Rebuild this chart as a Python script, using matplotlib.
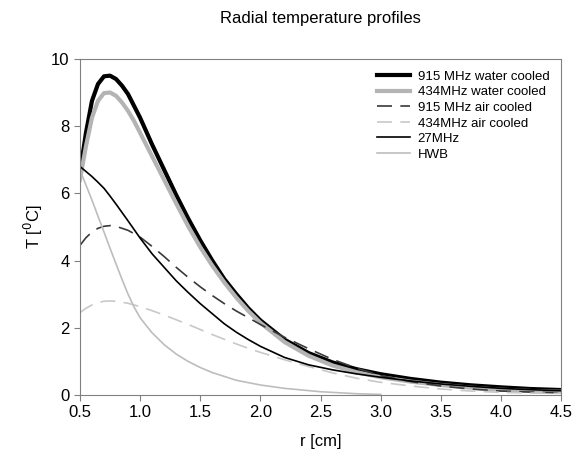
import numpy as np
from matplotlib import pyplot as plt

plt.rcParams['font.family'] = ['Liberation Sans', 'DejaVu Sans']

# radial positions [cm] and temperatures
r_water = [0.5, 0.55, 0.6, 0.65, 0.7, 0.75, 0.8, 0.85, 0.9, 0.95, 1.0, 1.1, 1.2,
           1.3, 1.4, 1.5, 1.6, 1.7, 1.8, 1.9, 2.0, 2.2, 2.4, 2.6, 2.8, 3.0,
           3.25, 3.5, 3.75, 4.0, 4.25, 4.5]
t_915_water = [6.6, 7.8, 8.75, 9.25, 9.48, 9.5, 9.4, 9.2, 8.95, 8.6, 8.25, 7.45,
               6.7, 5.95, 5.25, 4.6, 4.0, 3.45, 3.0, 2.58, 2.22, 1.65, 1.25,
               0.97, 0.77, 0.62, 0.48, 0.37, 0.29, 0.23, 0.18, 0.15]
t_434_water = [6.4, 7.4, 8.25, 8.75, 8.98, 9.0, 8.9, 8.7, 8.45, 8.15, 7.8, 7.1,
               6.4, 5.7, 5.02, 4.4, 3.85, 3.35, 2.9, 2.5, 2.15, 1.58, 1.17,
               0.88, 0.68, 0.53, 0.4, 0.3, 0.22, 0.16, 0.12, 0.1]

r_air = [0.5, 0.55, 0.6, 0.65, 0.7, 0.75, 0.8, 0.9, 1.0, 1.1, 1.2, 1.3, 1.4,
         1.5, 1.6, 1.7, 1.8, 1.9, 2.0, 2.2, 2.4, 2.6, 2.8, 3.0, 3.25, 3.5,
         3.75, 4.0, 4.25, 4.5]
t_915_air = [4.45, 4.68, 4.85, 4.96, 5.02, 5.04, 5.02, 4.9, 4.7, 4.42, 4.12,
             3.8, 3.5, 3.22, 2.96, 2.72, 2.5, 2.3, 2.1, 1.72, 1.38, 1.06, 0.8,
             0.58, 0.4, 0.27, 0.18, 0.12, 0.09, 0.07]
t_434_air = [2.45, 2.58, 2.68, 2.75, 2.79, 2.8, 2.79, 2.73, 2.63, 2.51, 2.38,
             2.24, 2.1, 1.95, 1.8, 1.66, 1.52, 1.39, 1.27, 1.05, 0.85, 0.66,
             0.5, 0.38, 0.27, 0.18, 0.12, 0.08, 0.06, 0.05]
t_27 = [6.8, 6.65, 6.5, 6.33, 6.15, 5.92, 5.68, 5.18, 4.67, 4.2, 3.8, 3.4,
        3.05, 2.72, 2.42, 2.12, 1.87, 1.65, 1.45, 1.12, 0.9, 0.75, 0.63, 0.53,
        0.42, 0.33, 0.26, 0.2, 0.16, 0.13]

r_hwb = [0.5, 0.55, 0.6, 0.65, 0.7, 0.75, 0.8, 0.85, 0.9, 0.95, 1.0, 1.1, 1.2,
         1.3, 1.4, 1.5, 1.6, 1.8, 2.0, 2.2, 2.5, 2.8, 3.0]
t_hwb = [6.7, 6.25, 5.8, 5.32, 4.85, 4.37, 3.9, 3.44, 3.0, 2.62, 2.3, 1.85, 1.5,
         1.22, 1.0, 0.82, 0.67, 0.44, 0.3, 0.2, 0.1, 0.04, 0.02]

fig = plt.figure(figsize=(5.75, 4.67), dpi=100)
ax = fig.add_axes([0.139, 0.154, 0.837, 0.72])

ax.plot(r_water, t_915_water, color='black', lw=3, label='915 MHz water cooled')
ax.plot(r_water, t_434_water, color='#b4b4b4', lw=3, label='434MHz water cooled')
ax.plot(r_air, t_915_air, color='#3a3a3a', lw=1.2, dashes=(9, 5), label='915 MHz air cooled')
ax.plot(r_air, t_434_air, color='#c8c8c8', lw=1.2, dashes=(9, 5), label='434MHz air cooled')
ax.plot(r_air, t_27, color='black', lw=1.2, label='27MHz')
ax.plot(r_hwb, t_hwb, color='#bdbdbd', lw=1.2, label='HWB')

ax.set_xlim(0.5, 4.5)
ax.set_ylim(0, 10)
xt = np.arange(0.5, 4.51, 0.5)
ax.set_xticks(xt)
ax.set_xticklabels(['%.1f' % v for v in xt])
ax.set_yticks([0, 2, 4, 6, 8, 10])
ax.tick_params(labelsize=12, color='#808080', length=4)
for s in ax.spines.values():
    s.set_color('#808080')

ax.set_xlabel('r [cm]', fontsize=12, labelpad=10)
ax.set_ylabel('T [$^0$C]', fontsize=12)
ax.set_title('Radial temperature profiles', fontsize=12, pad=26)

ax.legend(loc='upper right', frameon=False, fontsize=9.5, handlelength=2.5,
          handletextpad=0.6, labelspacing=0.25, borderaxespad=0.5)

plt.savefig('out.png')
